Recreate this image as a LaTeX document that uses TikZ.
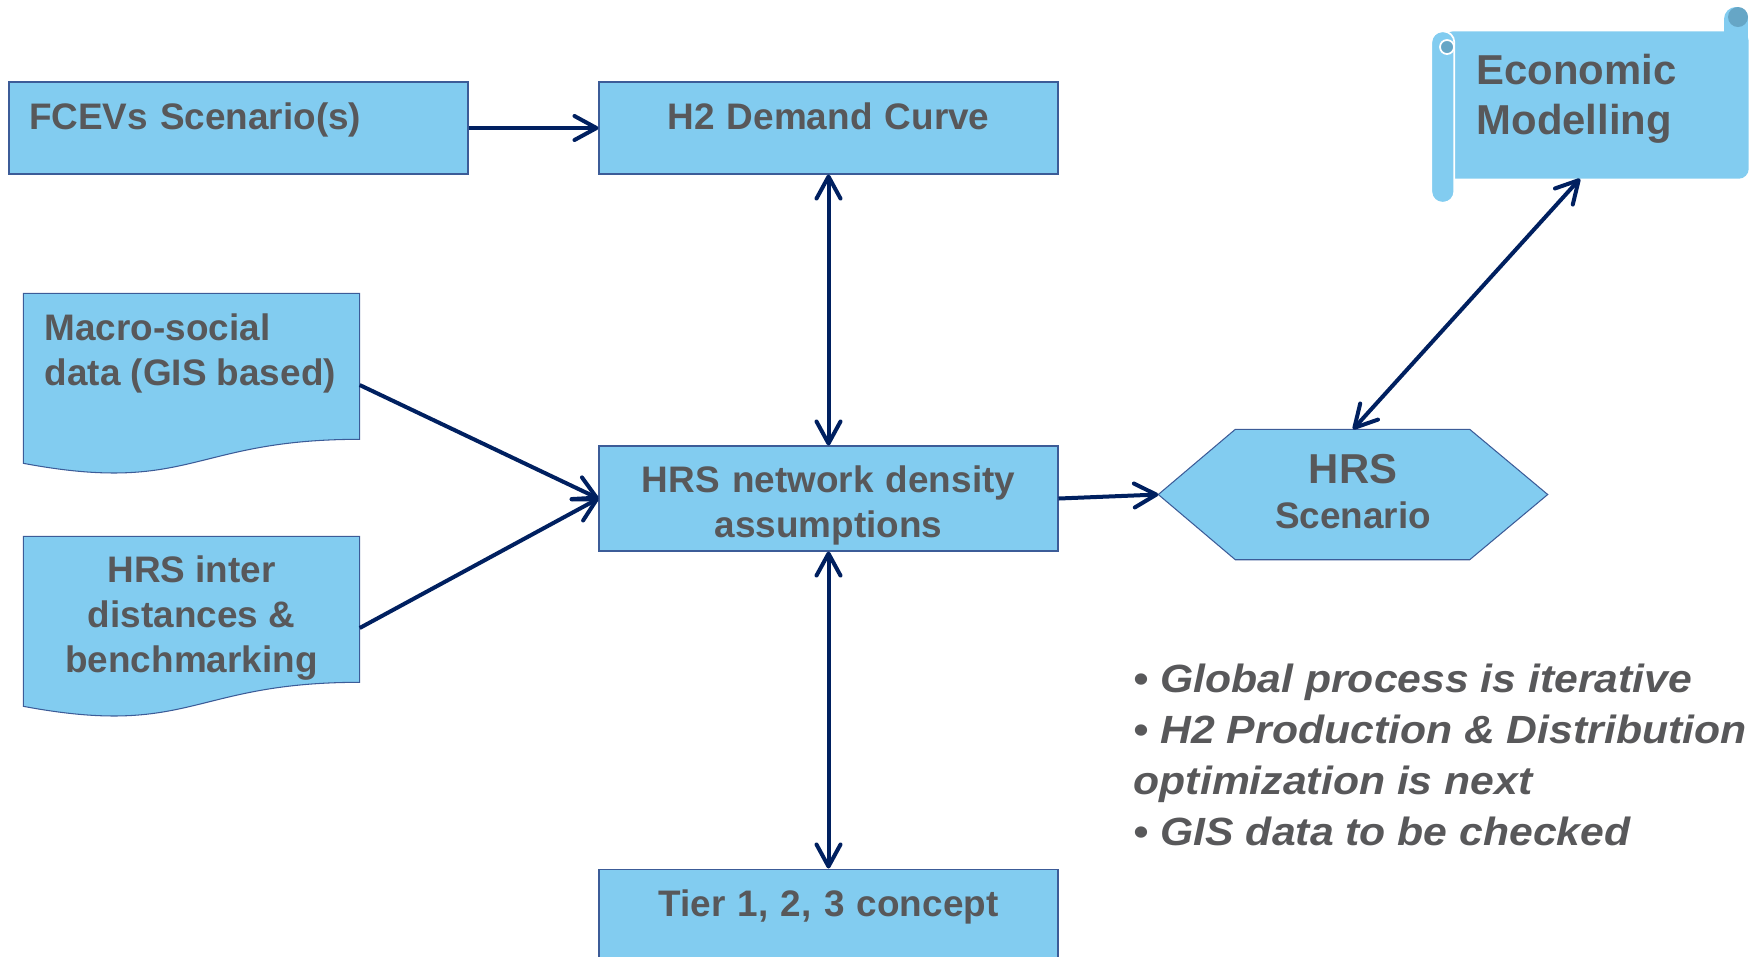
\documentclass[tikz,border=0pt]{standalone}
\usepackage{fontspec}
\setmainfont{Liberation Sans}
\newfontfamily\notefont{Liberation Sans}[FakeStretch=1.085]
\usetikzlibrary{arrows.meta,calc,backgrounds}

\definecolor{boxfill}{RGB}{130,204,240}
\definecolor{boxline}{RGB}{60,92,152}
\definecolor{txtgray}{RGB}{88,88,90}
\definecolor{navy}{RGB}{0,32,96}
\definecolor{curl}{RGB}{102,166,198}

\tikzstyle{boxtext}=[text=txtgray,font=\bfseries\fontsize{10.5}{12.8}\selectfont,inner sep=0pt]
\tikzstyle{box}=[boxtext,rectangle,draw=boxline,fill=boxfill,line width=0.3pt,minimum width=45.9mm,text width=41.9mm,inner xsep=2mm]
\tikzstyle{topbox}=[box,text height=4.75mm,text depth=4.45mm]
\tikzstyle{shapeframe}=[rectangle,inner sep=0pt]
\tikzstyle{shapefill}=[draw=boxline,fill=boxfill,line width=0.3pt]
\tikzstyle{link}=[draw=navy,line width=0.4mm,>={Straight Barb[length=2.2mm,width=2.4mm,round]}]
\tikzstyle{note}=[text=txtgray,font=\notefont\bfseries\itshape\fontsize{11.2}{14.5}\selectfont,inner sep=0pt,align=left]

\begin{document}
\begin{tikzpicture}[x=0.1mm,y=-0.1mm]
\useasboundingbox (0,0) rectangle (1756,956);

% Boxes
\node[topbox,align=left] (fcev) at (238.5,128) {FCEVs Scenario(s)};
\node[topbox,align=center] (demand) at (828.5,128) {H2 Demand Curve};
\node[box,align=center,minimum height=10.5mm] (net) at (828.5,498.5) {\rule{0pt}{4.1mm}HRS network density\\assumptions};
\node[topbox,align=center] (tier) at (828.5,915) {Tier 1, 2, 3 concept};

% Documents
\foreach \pos/\name in {{(191.5,385)/macro},{(191.5,628)/inter}}
    \node[shapeframe,minimum width=33.5mm,minimum height=18.2mm] (\name) at \pos {};
\node[boxtext,anchor=north west,align=left] (macrotxt) at (44,313) {Macro-social\\data (GIS based)};
\node[boxtext,anchor=north,align=center] (intertxt) at (191.5,555) {HRS inter\\distances \&\\benchmarking};

% Scenario
\node[boxtext,shapeframe,minimum width=38.8mm,minimum height=12.9mm,align=center] (hrs) at (1353,494.5) {{\fontsize{11.9}{12.8}\selectfont HRS}\\Scenario\rule[-0.7mm]{0pt}{0pt}};

% Scroll
\node[shapeframe,minimum width=31.6mm,minimum height=14.6mm] (econ) at (1590,105) {};
\node[boxtext,anchor=north west,align=left,font=\bfseries\fontsize{11.9}{14.5}\selectfont] (econtxt) at (1476,53) {Economic\\Modelling};
\coordinate (econin) at ($(econ.south)+(-10,0)$);

% Notes
\node[note,anchor=north west] (notes) at (1133,663) {• Global process is iterative\\• H2 Production \& Distribution\\optimization is next\\• GIS data to be checked};

\begin{scope}[on background layer]
    \foreach \name in {macro,inter}
        \path[shapefill] (\name.north west) -- (\name.north east) -- ($(\name.north east)+(0,146)$) .. controls ($(\name.north)+(0,146)$) and ($(\name.north)+(0,201.5)$) .. ($(\name.north west)+(0,170)$) -- cycle;
    \path[shapefill] (hrs.west) -- ($(hrs.north west)+(77,0)$) -- ($(hrs.north east)+(-78,0)$) -- (hrs.east) -- ($(hrs.south east)+(-78,0)$) -- ($(hrs.south west)+(77,0)$) -- cycle;
    % scroll
    \path[fill=boxfill,rounded corners=1mm] ($(econ.north west)+(12,0)$) rectangle (econ.south east);
    \path[fill=boxfill] (1724,19) rectangle (1748,40);
    \path[fill=boxfill] (1736,19) circle[radius=12];
    \path[fill=curl] (1738,17) circle[radius=10];
    \path[fill=boxfill,draw=white,line width=0.5pt,rounded corners=1.1mm] (econ.north west) rectangle ($(econ.south west)+(23,24)$);
    \path[fill=curl,draw=white,line width=0.5pt] (1447,47) circle[radius=7];
\end{scope}

% Connect boxes
\foreach \source/\dest in {fcev.east/demand.west, macro.east/net.west, inter.east/net.west, net.east/hrs.west}
    \path[link,->] (\source) -- (\dest);
\foreach \source/\dest in {demand.south/net.north, net.south/tier.north, hrs.north/econin}
    \path[link,<->] (\source) -- (\dest);

\end{tikzpicture}
\end{document}
